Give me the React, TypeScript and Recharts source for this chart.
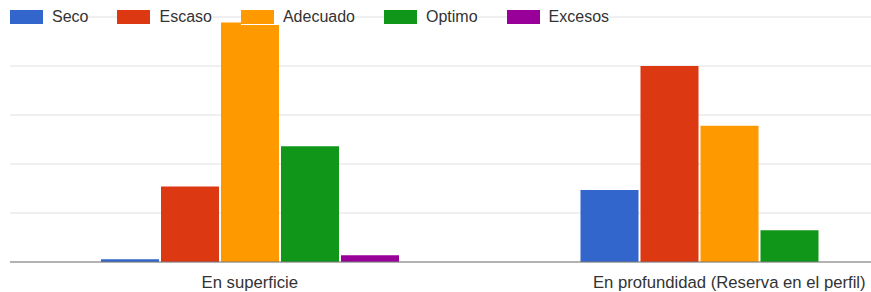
import { BarChart, Bar, XAxis, YAxis, CartesianGrid, Legend } from "recharts";

const categories = ["En superficie", "En profundidad (Reserva en el perfil)"];
const seco = [0.55, 14.7];
const escaso = [15.4, 40];
const adecuado = [48.9, 27.8];
const optimo = [23.6, 6.5];
const excesos = [1.4, 0];
const yTicks = [0, 10, 20, 30, 40, 50];

const series = [
  { key: "Seco", values: seco, color: "#3366cc" },
  { key: "Escaso", values: escaso, color: "#dc3912" },
  { key: "Adecuado", values: adecuado, color: "#ff9900" },
  { key: "Optimo", values: optimo, color: "#109618" },
  { key: "Excesos", values: excesos, color: "#990099" },
];

const data = categories.map((name, i) => {
  const row: any = { name };
  series.forEach((s) => (row[s.key] = s.values[i]));
  return row;
});

const renderLegend = () => (
  <div style={{ display: "flex", alignItems: "center" }}>
    {series.map((s) => (
      <div
        key={s.key}
        style={{ display: "flex", alignItems: "center", marginRight: 29, background: "#fff" }}
      >
        <span style={{ width: 33, height: 14, background: s.color, display: "inline-block" }} />
        <span style={{ marginLeft: 9, fontSize: 16, color: "#333", lineHeight: "16px" }}>{s.key}</span>
      </div>
    ))}
  </div>
);

export default function App() {
  return (
    <div
      style={{
        position: "fixed",
        top: 0,
        left: 0,
        width: 871,
        height: 292,
        overflow: "hidden",
        background: "#fff",
        fontFamily: "Arial, 'Liberation Sans', sans-serif",
      }}
    >
      <BarChart
        width={980}
        height={292}
        data={data}
        margin={{ top: 17, right: 11, bottom: 0, left: 10 }}
        barGap={2}
        barCategoryGap={91}
      >
        <CartesianGrid vertical={false} stroke="#e0e0e0" />
        <YAxis hide domain={[0, 50]} ticks={yTicks} />
        <XAxis
          dataKey="name"
          height={30}
          tickLine={false}
          tickSize={0}
          tickMargin={14}
          axisLine={{ stroke: "#777" }}
          tick={{ fill: "#333", fontSize: 16.7 }}
        />
        <Legend
          content={renderLegend}
          verticalAlign="middle"
          wrapperStyle={{ top: 9, left: 10, width: "auto" }}
        />
        {series.map((s) => (
          <Bar key={s.key} dataKey={s.key} fill={s.color} isAnimationActive={false} />
        ))}
      </BarChart>
    </div>
  );
}
